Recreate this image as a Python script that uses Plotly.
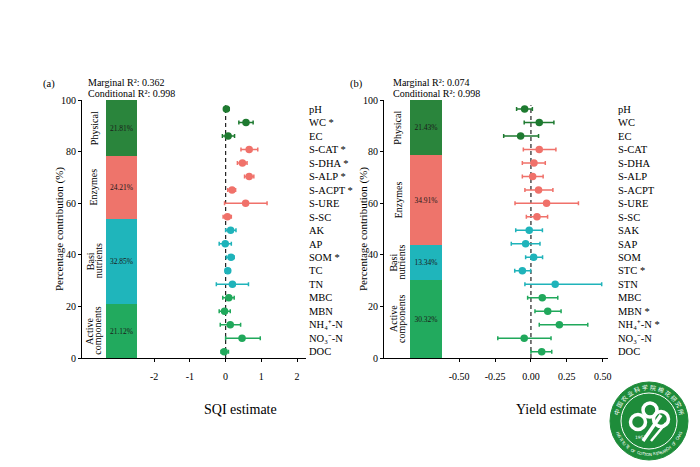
import math
import plotly.graph_objects as go

# ---------------- data ----------------
groups = ["Physical", "Enzymes", "Basi<br>nutrients", "Active<br>components"]
group_colors_bar = ["#2A853C", "#EE746B", "#1FB5BB", "#22AA5E"]
group_colors_pt = ["#1E7A30", "#F0716A", "#1FB3BA", "#20A85B"]

# stacked from bottom: Active, Basi, Enzymes, Physical
sqi_contrib = {"Physical": 21.81, "Enzymes": 24.21, "Basi<br>nutrients": 32.85, "Active<br>components": 21.12}
yld_contrib = {"Physical": 21.43, "Enzymes": 34.91, "Basi<br>nutrients": 13.34, "Active<br>components": 30.32}

row_group = [0, 0, 0, 1, 1, 1, 1, 1, 1, 2, 2, 2, 2, 2, 3, 3, 3, 3, 3]

sqi_labels = ["pH", "WC *", "EC", "S-CAT *", "S-DHA *", "S-ALP *", "S-ACPT *", "S-URE", "S-SC",
              "AK", "AP", "SOM *", "TC", "TN", "MBC", "MBN", "NH₄⁺-N", "NO₃⁻-N", "DOC"]
sqi_est = [0.02, 0.57, 0.07, 0.66, 0.47, 0.66, 0.18, 0.56, 0.05,
           0.14, -0.01, 0.15, 0.06, 0.19, 0.09, -0.03, 0.13, 0.46, -0.04]
sqi_lo = [-0.05, 0.37, -0.09, 0.43, 0.33, 0.53, 0.06, -0.03, -0.07,
          0.00, -0.18, 0.02, 0.00, -0.26, -0.08, -0.18, -0.15, 0.00, -0.13]
sqi_hi = [0.10, 0.77, 0.25, 0.90, 0.60, 0.79, 0.28, 1.16, 0.16,
          0.29, 0.16, 0.24, 0.13, 0.64, 0.24, 0.13, 0.42, 0.97, 0.08]

yld_labels = ["pH", "WC", "EC", "S-CAT", "S-DHA", "S-ALP", "S-ACPT", "S-URE", "S-SC",
              "SAK", "SAP", "SOM", "STC *", "STN", "MBC", "MBN *", "NH₄⁺-N *", "NO₃⁻-N", "DOC"]
yld_est = [-0.044, 0.058, -0.072, 0.058, 0.021, 0.012, 0.053, 0.109, 0.042,
           -0.012, -0.037, 0.019, -0.060, 0.169, 0.079, 0.117, 0.198, -0.047, 0.075]
yld_lo = [-0.100, -0.047, -0.190, -0.053, -0.060, -0.060, -0.042, -0.111, -0.032,
          -0.106, -0.137, -0.037, -0.113, -0.042, -0.023, 0.028, 0.058, -0.231, 0.000]
yld_hi = [0.010, 0.160, 0.053, 0.174, 0.100, 0.085, 0.153, 0.331, 0.116,
          0.080, 0.063, 0.081, -0.002, 0.493, 0.187, 0.210, 0.396, 0.140, 0.145]

sqi_ticks = [-2, -1, 0, 1, 2]
sqi_ticktext = ["-2", "-1", "0", "1", "2"]
yld_ticks = [-0.5, -0.25, 0, 0.25, 0.5]
yld_ticktext = ["-0.50", "-0.25", "0.00", "0.25", "0.50"]
pct_ticks = [0, 20, 40, 60, 80, 100]

logo_cn = "中国农业科学院棉花研究所"
logo_en = "INSTITUTE OF COTTON RESEARCH OF CAAS"
logo_year = "1957"

W, H = 700, 467
FONT = "Liberation Serif"


def px(x):
    return x / W


def py(y):
    return 1 - y / H


fig = go.Figure()

panels = [
    dict(tag="(a)", marg="0.362", cond="0.998", contrib=sqi_contrib, labels=sqi_labels,
         est=sqi_est, lo=sqi_lo, hi=sqi_hi, xs=("x", "x2"), ys=("y", "y2"),
         left=82, right=306, bar=(106, 137), xrange=[-4.02, 2.25], ticks=sqi_ticks,
         ticktext=sqi_ticktext, title="SQI estimate", title_x=240, label_standoff=2,
         tag_x=49, r2_x=86, ytitle_x=60),
    dict(tag="(b)", marg="0.074", cond="0.998", contrib=yld_contrib, labels=yld_labels,
         est=yld_est, lo=yld_lo, hi=yld_hi, xs=("x3", "x4"), ys=("y3", "y4"),
         left=384, right=608, bar=(410, 442), xrange=[-1.024, 0.537], ticks=yld_ticks,
         ticktext=yld_ticktext, title="Yield estimate", title_x=556, label_standoff=9,
         tag_x=356, r2_x=391, ytitle_x=364),
]

top_px, bot_px = 100, 358
ydom = [py(bot_px), py(top_px)]
row_range = [18.47, -0.668]

annotations = []
shapes = []
layout_axes = {}

for p in panels:
    xa, xb = p["xs"]
    ya, yb = p["ys"]
    # stacked bar (bottom to top)
    order = [3, 2, 1, 0]
    cum = 0
    for gi in order:
        g = groups[gi]
        v = p["contrib"][g]
        fig.add_trace(go.Bar(
            x=["c"], y=[v], xaxis=xb, yaxis=ya,
            marker=dict(color=group_colors_bar[gi], line=dict(width=0)),
            width=1, text=[f"{v:.2f}%"], textposition="inside", insidetextanchor="middle",
            textfont=dict(family=FONT, size=7.5, color="#1a1a1a"), showlegend=False,
            hoverinfo="skip"))
        lines = g.split("<br>")
        n = len(lines)
        for li, line in enumerate(lines):
            off = (li - (n - 1) / 2) * 8
            annotations.append(dict(
                x=px(p["bar"][0] - 12 + off), y=cum + v / 2, xref="paper", yref=ya, text=line,
                textangle=-90, showarrow=False, font=dict(family=FONT, size=10, color="black"),
                xanchor="center", yanchor="middle"))
        cum += v

    # forest points per group
    for gi in range(4):
        idx = [i for i, r in enumerate(row_group) if r == gi]
        fig.add_trace(go.Scatter(
            x=[p["est"][i] for i in idx], y=idx, xaxis=xa, yaxis=yb, mode="markers",
            marker=dict(color=group_colors_pt[gi], size=7.5),
            error_x=dict(type="data", symmetric=False,
                         array=[p["hi"][i] - p["est"][i] for i in idx],
                         arrayminus=[p["est"][i] - p["lo"][i] for i in idx],
                         color=group_colors_pt[gi], thickness=1.5, width=2),
            showlegend=False))

    xdom = [px(p["left"]), px(p["right"])]
    bdom = [px(p["bar"][0]), px(p["bar"][1])]
    k = lambda a: "xaxis" + a[1:] if a != "x" else "xaxis"
    ky = lambda a: "yaxis" + a[1:] if a != "y" else "yaxis"
    layout_axes[k(xa)] = dict(
        domain=xdom, anchor=ya, range=p["xrange"], tickvals=p["ticks"], ticktext=p["ticktext"],
        showgrid=False, zeroline=False, showline=True, linecolor="black", linewidth=1,
        ticks="outside", ticklen=3, tickcolor="black", ticklabelstandoff=6, automargin=False,
        tickfont=dict(family=FONT, size=10, color="black"))
    layout_axes[k(xb)] = dict(
        domain=bdom, anchor=ya, range=[-0.5, 0.5], visible=False, showgrid=False, zeroline=False,
        automargin=False)
    layout_axes[ky(ya)] = dict(
        domain=ydom, anchor=xa, range=[0, 100], tickvals=pct_ticks, showgrid=False, zeroline=False,
        showline=True, linecolor="black", linewidth=1, ticks="outside", ticklen=3, tickcolor="black",
        automargin=False, tickfont=dict(family=FONT, size=10, color="black"))
    layout_axes[ky(yb)] = dict(
        overlaying=ya, anchor=xa, side="right", range=row_range, tickmode="array",
        tickvals=list(range(len(p["labels"]))), ticktext=p["labels"], showgrid=False,
        zeroline=False, showline=False, ticks="", ticklabelstandoff=p["label_standoff"],
        automargin=False, tickfont=dict(family=FONT, size=10.5, color="black"))

    shapes.append(dict(type="line", xref=xa, yref=ya, x0=0, x1=0, y0=0, y1=98,
                       line=dict(color="#222", width=1.2, dash="4px,3px"), layer="below"))

    annotations += [
        dict(x=px(p["tag_x"]), y=py(84), xref="paper", yref="paper", text=p["tag"], showarrow=False,
             font=dict(family=FONT, size=10.5, color="black"), xanchor="center", yanchor="middle"),
        dict(x=px(p["r2_x"]), y=py(82), xref="paper", yref="paper",
             text=f"Marginal R²: {p['marg']}", showarrow=False,
             font=dict(family=FONT, size=10, color="black"), xanchor="left", yanchor="middle"),
        dict(x=px(p["r2_x"]), y=py(93.5), xref="paper", yref="paper",
             text=f"Conditional R²: {p['cond']}", showarrow=False,
             font=dict(family=FONT, size=10, color="black"), xanchor="left", yanchor="middle"),
        dict(x=px(p["title_x"]), y=py(409), xref="paper", yref="paper", text=p["title"],
             showarrow=False, font=dict(family=FONT, size=14, color="black"),
             xanchor="center", yanchor="middle"),
        dict(x=px(p["ytitle_x"]), y=py(229), xref="paper", yref="paper",
             text="Percentage contribution (%)", textangle=-90, showarrow=False,
             font=dict(family=FONT, size=11, color="black"), xanchor="center", yanchor="middle"),
    ]

# ---------------- logo (decorative) ----------------
LG = "#1E8C3A"
cx, cy, R1, R2 = 649, 421, 39, 28


def circ(x, y, r, fill, line_color, lw):
    return dict(type="circle", xref="paper", yref="paper", x0=px(x - r), x1=px(x + r),
                y0=py(y + r), y1=py(y - r), line=dict(color=line_color, width=lw),
                fillcolor=fill, layer="above")


shapes += [
    circ(cx, cy, R1, LG, LG, 1),
    circ(cx, cy, R2, LG, "white", 1),
    circ(cx - 11, cy + 1, 7.5, "rgba(0,0,0,0)", "white", 3.5),
    circ(cx + 1, cy - 11, 7, "rgba(0,0,0,0)", "white", 3.5),
    circ(cx + 12, cy - 2, 7.5, "rgba(0,0,0,0)", "white", 3.5),
    dict(type="line", xref="paper", yref="paper", x0=px(cx - 6), y0=py(cy + 20),
         x1=px(cx + 12), y1=py(cy - 6), line=dict(color="white", width=3.5), layer="above"),
    dict(type="line", xref="paper", yref="paper", x0=px(cx + 2), y0=py(cy + 20),
         x1=px(cx + 17), y1=py(cy + 2), line=dict(color="white", width=2.5), layer="above"),
]
annotations.append(dict(x=px(cx), y=py(cy + 21), xref="paper", yref="paper", text=logo_year,
                        showarrow=False, font=dict(family="DejaVu Sans", size=4.5, color="white")))
rt = 33.5
ncn = len(logo_cn)
for i, ch in enumerate(logo_cn):
    th = 165 - i * (150 / (ncn - 1))
    annotations.append(dict(
        x=px(cx + rt * math.cos(math.radians(th))), y=py(cy - rt * math.sin(math.radians(th))),
        xref="paper", yref="paper", text=ch, textangle=90 - th, showarrow=False,
        font=dict(family="Noto Sans CJK SC", size=6, color="white"),
        xanchor="center", yanchor="middle"))
nen = len(logo_en)
for i, ch in enumerate(logo_en):
    th = 200 + i * (140 / (nen - 1))
    annotations.append(dict(
        x=px(cx + rt * math.cos(math.radians(th))), y=py(cy - rt * math.sin(math.radians(th))),
        xref="paper", yref="paper", text=ch, textangle=270 - th, showarrow=False,
        font=dict(family="DejaVu Sans", size=4, color="white"),
        xanchor="center", yanchor="middle"))

fig.update_layout(
    width=W, height=H, margin=dict(l=0, r=0, t=0, b=0, autoexpand=False), paper_bgcolor="white",
    plot_bgcolor="rgba(0,0,0,0)", barmode="stack", bargap=0, showlegend=False,
    annotations=annotations, shapes=shapes, **layout_axes)

fig.write_html("out.html")
